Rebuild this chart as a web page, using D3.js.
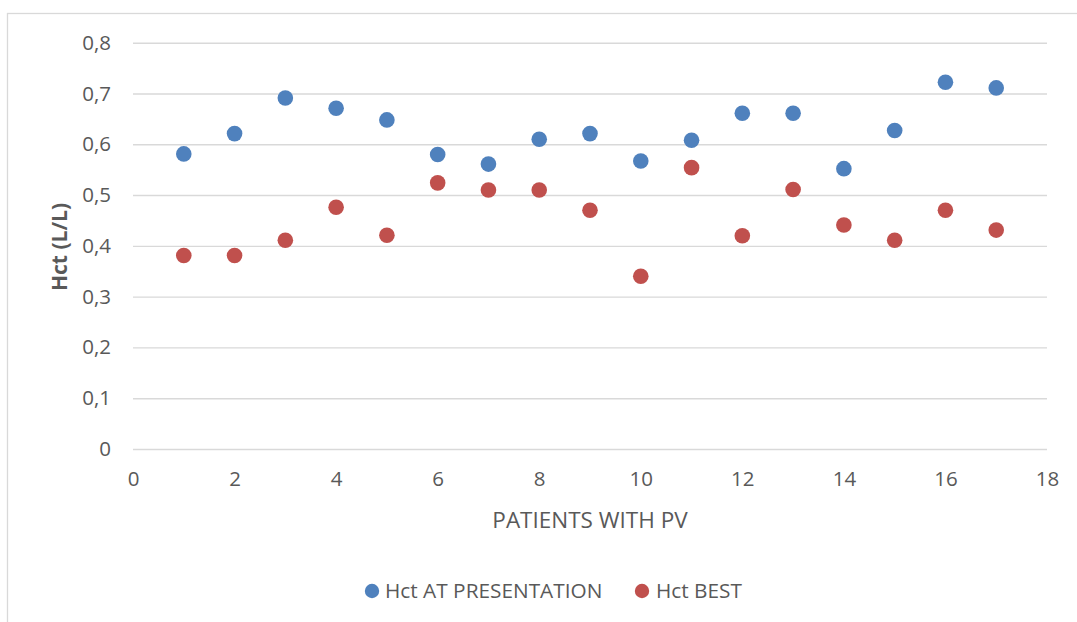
<!DOCTYPE html>
<html>
<head>
<meta charset="utf-8">
<script src="https://cdn.jsdelivr.net/npm/d3@7"></script>
<style>
  html, body { margin: 0; padding: 0; background: #fff; }
  svg { display: block; font-family: "Open Sans", sans-serif; }
</style>
</head>
<body>
<svg id="chart" width="1077" height="622"></svg>
<script>
// Patient index (x) and haematocrit values (L/L) for the two series
const patients = [1, 2, 3, 4, 5, 6, 7, 8, 9, 10, 11, 12, 13, 14, 15, 16, 17];
const hctPresentation = [0.581, 0.621, 0.691, 0.671, 0.648, 0.580, 0.561, 0.610, 0.621, 0.567, 0.608, 0.661, 0.661, 0.552, 0.627, 0.722, 0.711];
const hctBest = [0.381, 0.381, 0.411, 0.476, 0.421, 0.524, 0.510, 0.510, 0.470, 0.340, 0.554, 0.420, 0.511, 0.441, 0.411, 0.470, 0.431];
const xTicks = [0, 2, 4, 6, 8, 10, 12, 14, 16, 18];
const yTicks = [0, 0.1, 0.2, 0.3, 0.4, 0.5, 0.6, 0.7, 0.8];
const seriesNames = ["Hct AT PRESENTATION", "Hct BEST"];
const seriesColors = ["#4f81bd", "#c0504d"];

const svg = d3.select("#chart");
const textColor = "#595959";
const fontSize = 20.5;

// chart frame
svg.append("rect")
  .attr("x", 7.5).attr("y", 13.5)
  .attr("width", 1200).attr("height", 800)
  .attr("fill", "none").attr("stroke", "#d9d9d9").attr("stroke-width", 1.3);

const x = d3.scaleLinear().domain([0, 18]).range([133, 1047]);
const y = d3.scaleLinear().domain([0, 0.8]).range([449, 42.7]);

// horizontal gridlines
svg.append("g")
  .attr("transform", `translate(${x(0)},0)`)
  .call(d3.axisLeft(y).tickValues(yTicks).tickSize(-(x(18) - x(0))).tickFormat(""))
  .call(g => g.select(".domain").remove())
  .call(g => g.selectAll("line").attr("stroke", "#d9d9d9").attr("stroke-width", 1.4));

// y tick labels
const fmt = v => d3.format(".1f")(v).replace(".", ",").replace(/^0,0$/, "0");
svg.append("g")
  .attr("transform", `translate(${x(0)},0)`)
  .call(d3.axisLeft(y).tickValues(yTicks).tickSize(0).tickPadding(22).tickFormat(fmt))
  .call(g => g.select(".domain").remove())
  .call(g => g.selectAll("text")
    .attr("fill", textColor).attr("font-size", fontSize)
    .attr("font-family", "Open Sans, sans-serif"));

// x tick labels
svg.append("g")
  .attr("transform", `translate(0,${y(0)})`)
  .call(d3.axisBottom(x).tickValues(xTicks).tickSize(0).tickPadding(22).tickFormat(d3.format("d")))
  .call(g => g.select(".domain").remove())
  .call(g => g.selectAll("text")
    .attr("fill", textColor).attr("font-size", fontSize)
    .attr("font-family", "Open Sans, sans-serif"));

// axis titles
svg.append("text")
  .attr("transform", "translate(67,247) rotate(-90)")
  .attr("text-anchor", "middle")
  .attr("fill", textColor).attr("font-size", 21).attr("font-weight", "bold")
  .text("Hct (L/L)");

svg.append("text")
  .attr("x", 590).attr("y", 528)
  .attr("text-anchor", "middle")
  .attr("fill", textColor).attr("font-size", 22.5)
  .text("PATIENTS WITH PV");

// scatter points
[hctPresentation, hctBest].forEach((vals, i) => {
  svg.append("g").selectAll("circle")
    .data(patients.map((p, j) => ({ p, v: vals[j] })))
    .join("circle")
    .attr("cx", d => x(d.p))
    .attr("cy", d => y(d.v))
    .attr("r", 7.8)
    .attr("fill", seriesColors[i]);
});

// legend
const legendItems = [{ cx: 372, tx: 385 }, { cx: 642, tx: 656 }];
legendItems.forEach((it, i) => {
  svg.append("circle").attr("cx", it.cx).attr("cy", 591).attr("r", 7.2)
    .attr("fill", seriesColors[i]);
  svg.append("text").attr("x", it.tx).attr("y", 598)
    .attr("fill", textColor).attr("font-size", 20.8)
    .text(seriesNames[i]);
});
</script>
</body>
</html>
